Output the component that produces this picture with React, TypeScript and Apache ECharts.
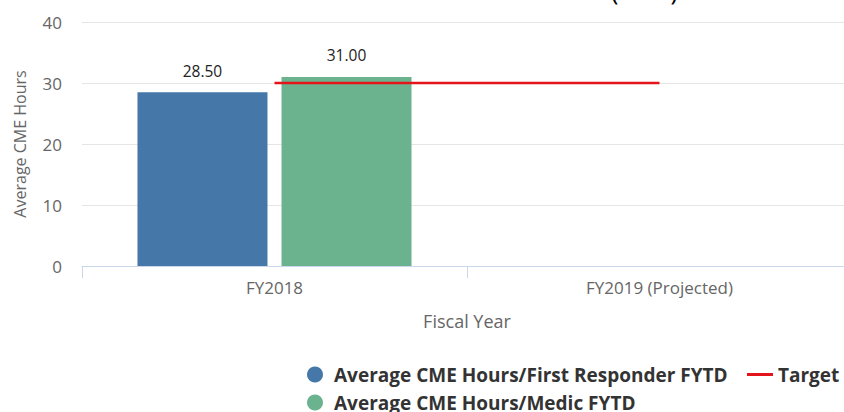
import React, { useEffect, useRef } from "react";
import * as echarts from "echarts";

const categories = ["FY2018", "FY2019 (Projected)"];
const firstResponder = [28.5, null];
const medic = [31.0, null];
const target = [30, 30];
const seriesNames = [
  "Average CME Hours/First Responder FYTD",
  "Average CME Hours/Medic FYTD",
  "Target",
];
const titleText = "AVERAGE CONTINUING MEDICAL EDUCATION (CME) HOURS";

const FONT = "'Open Sans', 'DejaVu Sans', sans-serif";

export default function App() {
  const ref = useRef<HTMLDivElement>(null);
  useEffect(() => {
    document.body.style.margin = "0";
    if (!ref.current) return;
    const chart = echarts.init(ref.current, undefined, { renderer: "svg" });
    const legendText = { fontSize: 19, fontWeight: "bold", color: "#333", fontFamily: FONT };
    chart.setOption({
      animation: false,
      textStyle: { fontFamily: FONT },
      graphic: [
        {
          type: "text",
          left: "center",
          top: -23,
          style: { text: titleText, fontSize: 25, fill: "#000", fontFamily: FONT },
        },
      ],
      grid: {
        left: 82,
        right: -8,
        top: 22,
        bottom: 146,
        containLabel: false,
        outerBoundsMode: "none",
      },
      legend: [
        {
          data: [seriesNames[0]],
          left: 307,
          top: 365,
          itemWidth: 28,
          itemHeight: 16,
          icon: "circle",
          textStyle: legendText,
          padding: 0,
        },
        {
          data: [seriesNames[2]],
          left: 747,
          top: 365,
          itemWidth: 26,
          itemHeight: 3,
          icon: "rect",
          textStyle: legendText,
          padding: 0,
        },
        {
          data: [seriesNames[1]],
          left: 307,
          top: 393,
          itemWidth: 28,
          itemHeight: 16,
          icon: "circle",
          textStyle: legendText,
          padding: 0,
        },
      ],
      xAxis: {
        type: "category",
        data: categories,
        name: "Fiscal Year",
        nameLocation: "middle",
        nameGap: 46,
        nameTextStyle: { fontSize: 18, color: "#666", fontFamily: FONT },
        axisLine: { lineStyle: { color: "#ccd6eb", width: 1 } },
        axisTick: { show: true, length: 12, lineStyle: { color: "#ccd6eb" } },
        axisLabel: { color: "#666", fontSize: 17, margin: 13, fontFamily: FONT },
        splitLine: { show: false },
      },
      yAxis: {
        type: "value",
        min: 0,
        max: 40,
        interval: 10,
        name: "Average CME Hours",
        nameLocation: "middle",
        nameRotate: 90,
        nameGap: 54,
        nameTextStyle: { fontSize: 16, color: "#666", fontFamily: FONT },
        axisLine: { show: false },
        axisTick: { show: false },
        axisLabel: { color: "#666", fontSize: 17, margin: 20, fontFamily: FONT },
        splitLine: { lineStyle: { color: "#e6e6e6", width: 1 } },
      },
      series: [
        {
          name: seriesNames[0],
          type: "bar",
          data: firstResponder,
          barWidth: 130,
          barGap: "10.8%",
          itemStyle: { color: "#4577a8" },
          label: {
            show: true,
            position: "top",
            distance: 13,
            fontSize: 15.5,
            color: "#222",
            fontFamily: FONT,
            formatter: (p: any) => Number(p.value).toFixed(2),
          },
        },
        {
          name: seriesNames[1],
          type: "bar",
          data: medic,
          barWidth: 130,
          itemStyle: { color: "#6bb28e" },
          label: {
            show: true,
            position: "top",
            distance: 14,
            fontSize: 15.5,
            color: "#222",
            fontFamily: FONT,
            formatter: (p: any) => Number(p.value).toFixed(2),
          },
        },
        {
          name: seriesNames[2],
          type: "line",
          data: target,
          symbol: "none",
          showSymbol: false,
          z: 5,
          itemStyle: { color: "#e4141b" },
          lineStyle: { color: "#e4141b", width: 2.5 },
        },
      ],
    });
    return () => chart.dispose();
  }, []);
  return <div ref={ref} style={{ width: 844, height: 412 }} />;
}
